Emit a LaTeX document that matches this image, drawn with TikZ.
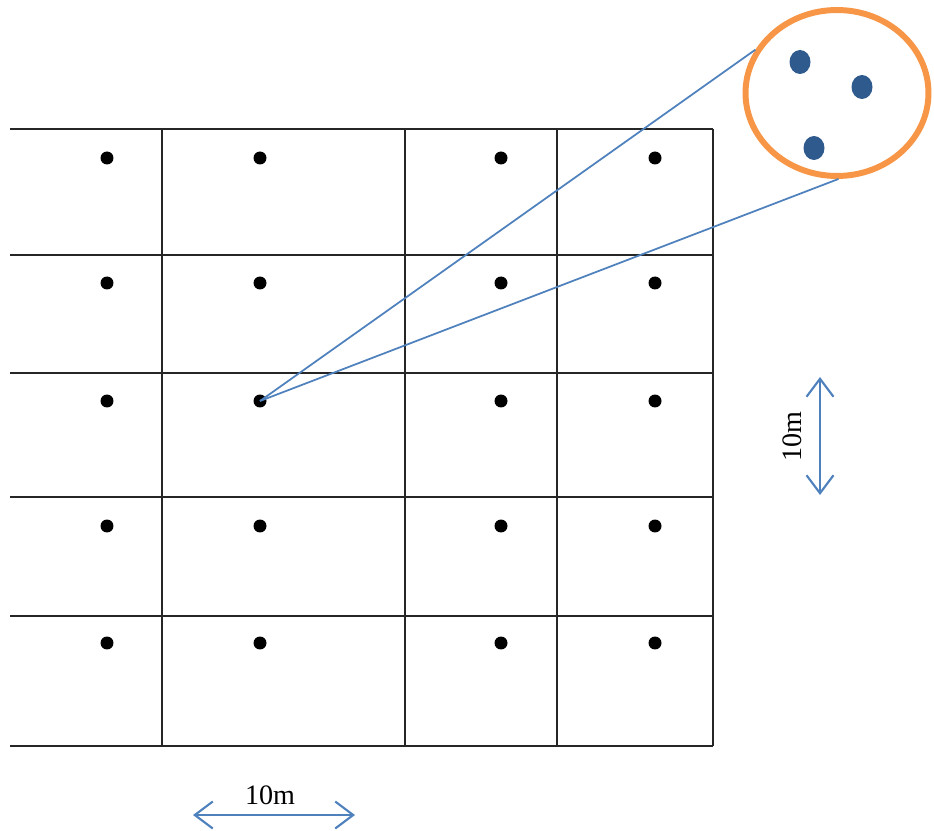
\documentclass[tikz,border=0pt]{standalone}
\usepackage{fontspec}
\setmainfont{Liberation Serif}
\usepackage{tikz}
\usetikzlibrary{arrows.meta,shapes.geometric}
\usepackage[dvipsnames,svgnames,x11names]{xcolor}

\definecolor{lensorange}{HTML}{F79646}
\definecolor{lineblue}{HTML}{4F81BD}
\definecolor{treeblue}{HTML}{2F5A8E}

\tikzset{
    gridline/.style={line width=1.1pt, black!85},
    plant/.style={circle, fill=black, inner sep=0pt, minimum size=0.26cm},
    tree/.style={ellipse, fill=treeblue, inner sep=0pt,
        minimum width=0.42cm, minimum height=0.48cm},
    zoomline/.style={line width=1pt, lineblue},
    measure/.style={line width=1.2pt, lineblue,
        {Straight Barb[length=3.6mm,width=5.4mm]}-{Straight Barb[length=3.6mm,width=5.4mm]}},
    dimlabel/.style={font=\fontsize{16}{18}\selectfont, inner sep=1pt}
}

\begin{document}
\begin{tikzpicture}[x=0.02cm, y=-0.02cm]

\useasboundingbox (0,0) rectangle (934,831);

% Rutenett
\draw[gridline] (10,129) -- (713,129);
\draw[gridline] (10,255) -- (713,255);
\draw[gridline] (10,373) -- (713,373);
\draw[gridline] (10,497) -- (713,497);
\draw[gridline] (10,616) -- (713,616);
\draw[gridline] (10,746) -- (713,746);

\draw[gridline] (162,129) -- (162,746);
\draw[gridline] (405,129) -- (405,746);
\draw[gridline] (557,129) -- (557,746);
\draw[gridline] (713,129) -- (713,746);


% Planter, rad 1
\node[plant] (d11) at (107,158) {};
\node[plant] (d12) at (260,158) {};
\node[plant] (d13) at (501,158) {};
\node[plant] (d14) at (655,158) {};

% Planter, rad 2
\node[plant] (d21) at (107,283) {};
\node[plant] (d22) at (260,283) {};
\node[plant] (d23) at (501,283) {};
\node[plant] (d24) at (655,283) {};

% Planter, rad 3
\node[plant] (d31) at (107,401) {};
\node[plant] (d32) at (260,401) {};
\node[plant] (d33) at (501,401) {};
\node[plant] (d34) at (655,401) {};

% Planter, rad 4
\node[plant] (d41) at (107,526) {};
\node[plant] (d42) at (260,526) {};
\node[plant] (d43) at (501,526) {};
\node[plant] (d44) at (655,526) {};

% Planter, rad 5
\node[plant] (d51) at (107,643) {};
\node[plant] (d52) at (260,643) {};
\node[plant] (d53) at (501,643) {};
\node[plant] (d54) at (655,643) {};


% Forstørrelse
\node[
    ellipse,
    draw=lensorange,
    line width=3.4pt,
    minimum width=3.66cm,
    minimum height=3.32cm,
    inner sep=0pt
] (lens) at (837,93) {};

\node[tree] (t1) at (800,62) {};
\node[tree] (t2) at (862,87) {};
\node[tree] (t3) at (814,148) {};

\draw[zoomline] (d32.center) -- (lens.152);
\draw[zoomline] (d32.center) -- (lens.271);


% Avstand, loddrett
\coordinate (vtop) at (820,377);
\coordinate (vbot) at (820,495);
\draw[measure] (vtop) -- (vbot);
\node[dimlabel, rotate=90] (vlabel) at (792,437) {10m};

% Avstand, vannrett
\coordinate (hleft) at (193,815);
\coordinate (hright) at (355,815);
\draw[measure] (hleft) -- (hright);
\node[dimlabel] (hlabel) at (270,795) {10m};

\end{tikzpicture}
\end{document}
